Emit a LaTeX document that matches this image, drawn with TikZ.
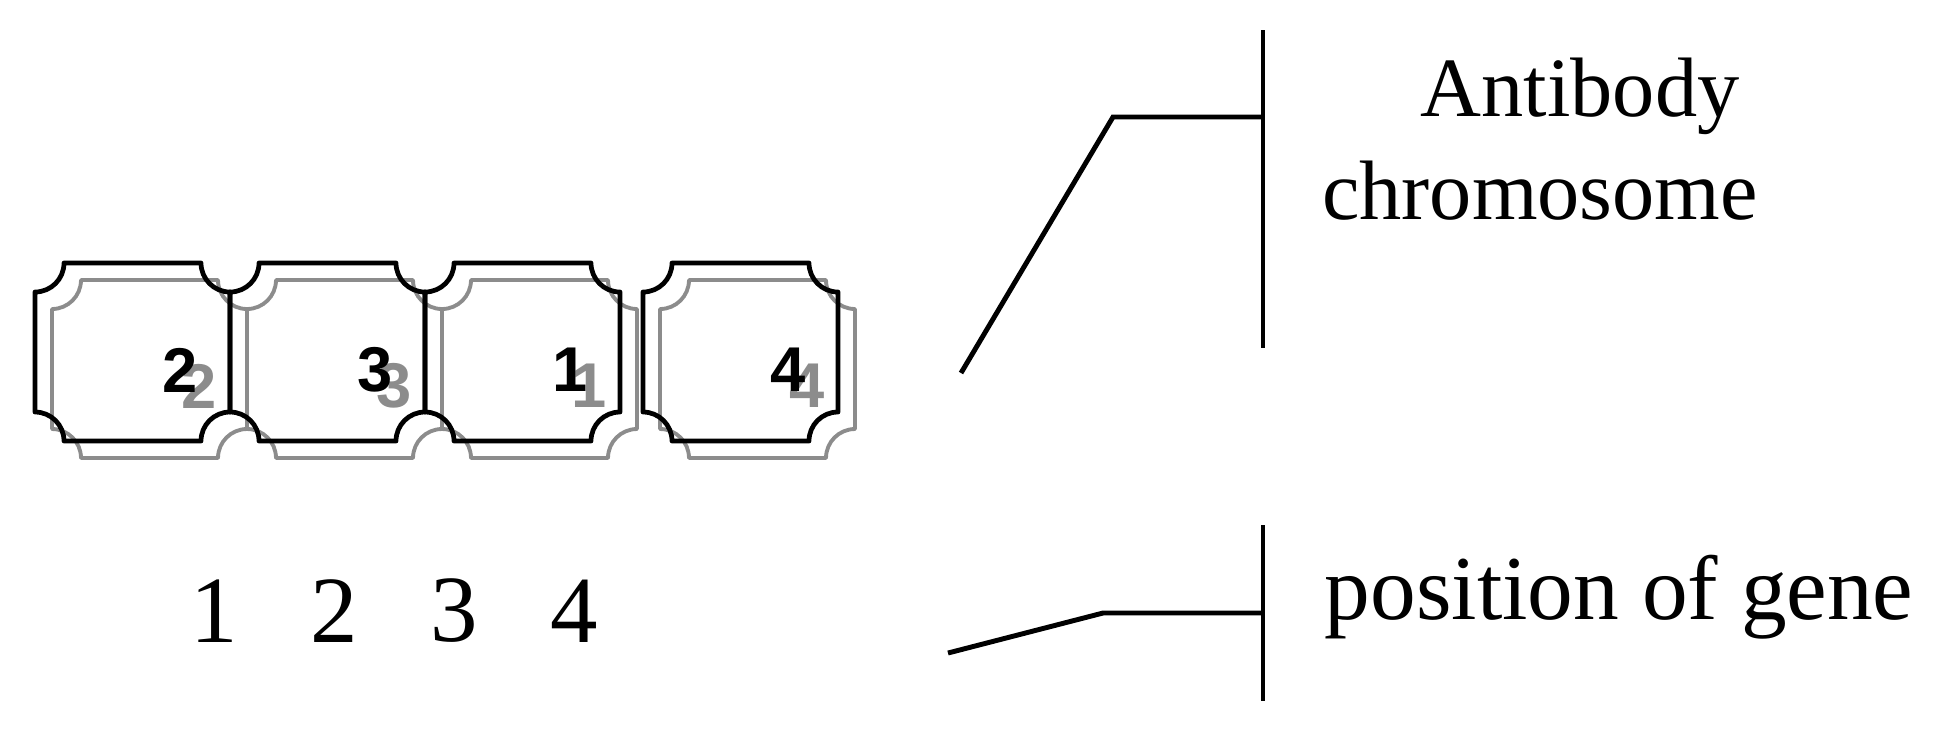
\documentclass[tikz,border=0pt]{standalone}
\usepackage{fontspec}
\setmainfont{Liberation Serif}
\newfontfamily\genefont{Liberation Sans}
\usetikzlibrary{positioning}

% one chromosome segment with hollow corners, #1 = left edge, top at y=0
\newcommand{\segpath}[1]{(#1+0.29,0) -- (#1+1.66,0) arc[start angle=180,end angle=270,radius=0.29]
  -- (#1+1.95,-1.49) arc[start angle=90,end angle=180,radius=0.29]
  -- (#1+0.29,-1.78) arc[start angle=0,end angle=90,radius=0.29]
  -- (#1,-0.29) arc[start angle=270,end angle=360,radius=0.29] -- cycle}

\begin{document}
\begin{tikzpicture}[node distance=1.2cm,
  segment/.style={draw=black,line width=1.35pt,line join=round},
  ghost/.style={draw=black!45,line width=1.1pt,line join=round},
  genenum/.style={inner sep=0pt,font=\genefont\bfseries\fontsize{18}{20}\selectfont},
  ghostnum/.style={genenum,text=black!45},
  posnum/.style={inner sep=0pt,font=\fontsize{27}{30}\selectfont},
  caption/.style={inner sep=0pt,anchor=base,font=\fontsize{24}{28}\selectfont},
  bracket/.style={line width=1.4pt}]
 \useasboundingbox (0,0) rectangle (19.51,-7.29);

 % segments of the chromosome, grey copy shifted behind
 \foreach \x/\g in {0.35/2,2.30/3,4.25/1,6.43/4} {
   \draw[ghost,yshift=-2.80cm,xshift=0.17cm] \segpath{\x};
   \draw[segment,yshift=-2.63cm] \segpath{\x};
   \node[ghostnum] (g\g) at (\x+1.64,-3.86) {\g};
   \node[genenum]  (s\g) at (\x+1.45,-3.70) {\g};
 }

 % positions
 \node[posnum] (p1) at (2.14,-6.11) {1};
 \node[posnum] (p2) [right of=p1] {2};
 \node[posnum] (p3) [right of=p2] {3};
 \node[posnum] (p4) [right of=p3] {4};

 % labels
 \node[caption] (anti)  at (15.80,-1.16) {Antibody};
 \node[caption] (chrom) at (15.40,-2.19) {chromosome};
 \node[caption,anchor=base west,font=\fontsize{26}{30}\selectfont]
               (pos)   at (13.24,-6.19) {position of gene};

 % brackets
 \coordinate (ctop)  at (12.63,-0.30);
 \coordinate (cbot)  at (12.63,-3.48);
 \coordinate (cjoin) at (12.63,-1.17);
 \coordinate (cknee) at (11.13,-1.17);
 \coordinate (cfoot) at (9.61,-3.73);
 \coordinate (ptop)  at (12.63,-5.25);
 \coordinate (pbot)  at (12.63,-7.01);
 \coordinate (pjoin) at (12.63,-6.13);
 \coordinate (pknee) at (11.03,-6.13);
 \coordinate (pfoot) at (9.48,-6.53);

 \draw[bracket] (ctop) -- (cbot);
 \draw[bracket] (cfoot) -- (cknee) -- (cjoin);
 \draw[bracket] (ptop) -- (pbot);
 \draw[bracket] (pfoot) -- (pknee) -- (pjoin);
\end{tikzpicture}
\end{document}
